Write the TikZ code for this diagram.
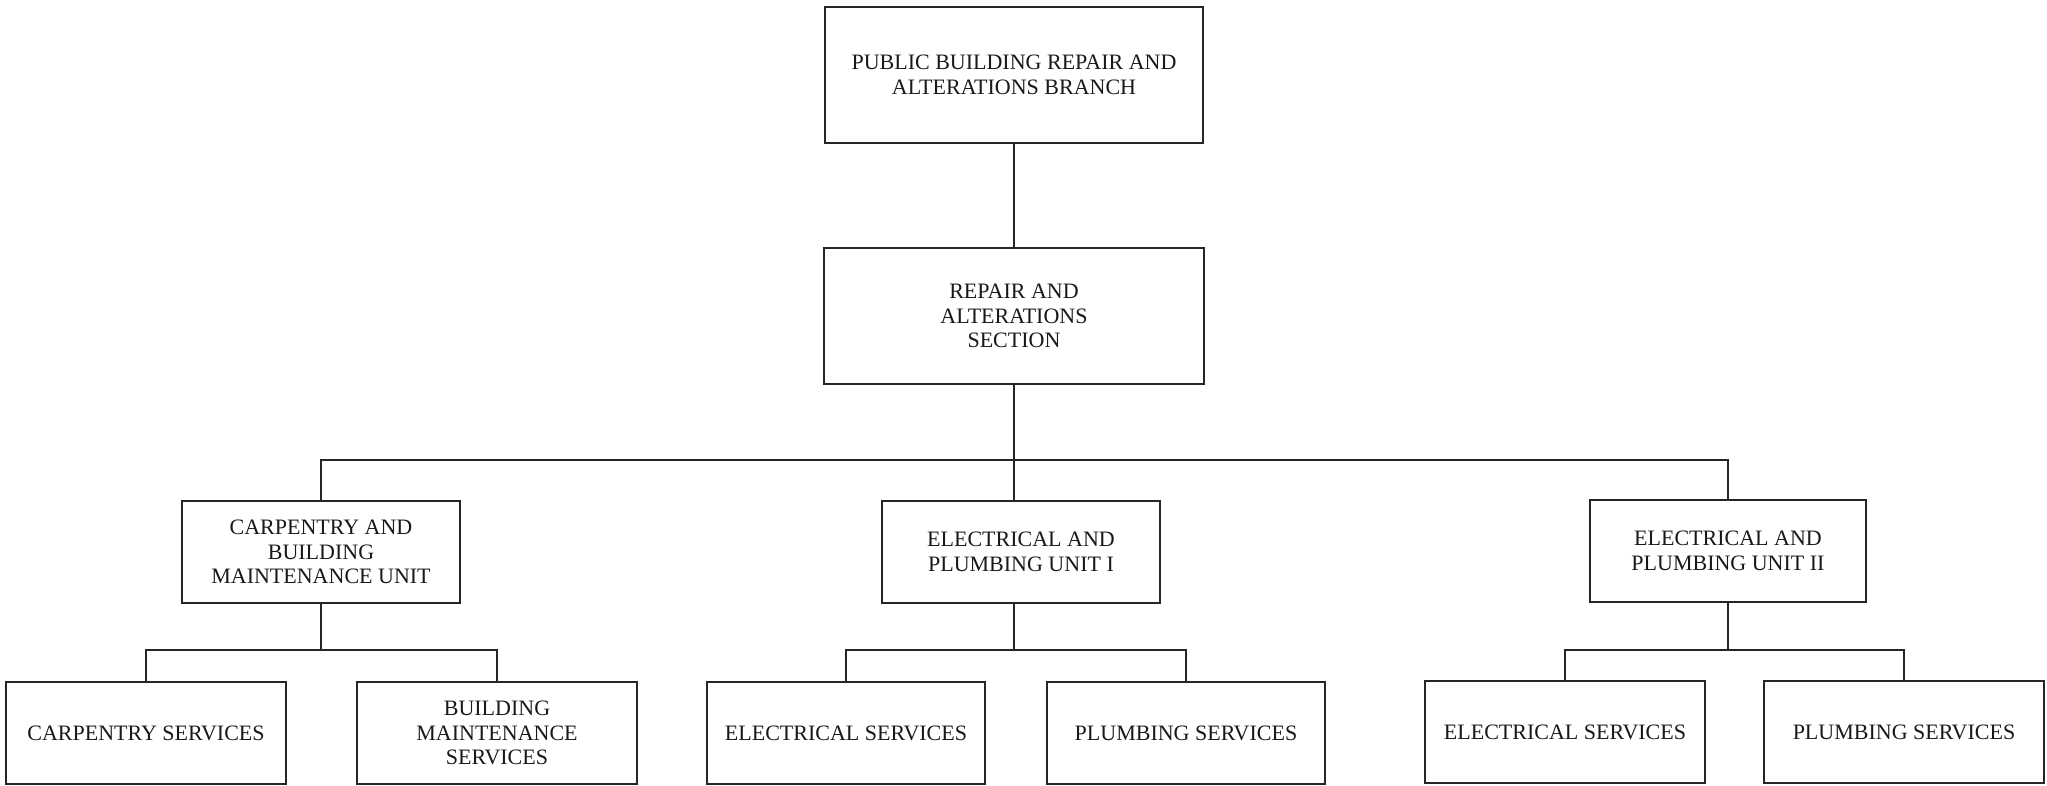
\documentclass[tikz,border=0pt]{standalone}
\usepackage{fontspec}
\setmainfont{Liberation Serif}
\begin{document}
\begin{tikzpicture}[x=1pt,y=-1pt,
  box/.style={draw=black!85, line width=2pt, rectangle, inner sep=0pt, align=center,
    font=\fontsize{22}{24.5}\selectfont, text=black!90},
  con/.style={draw=black!85, line width=2pt}]
\useasboundingbox[fill=white] (0,0) rectangle (2047,785);
% boxes
\node[box, minimum width=378pt, minimum height=136pt] (top) at (1014,75) {PUBLIC BUILDING REPAIR AND\\ALTERATIONS BRANCH};
\node[box, minimum width=380pt, minimum height=136pt] (sec) at (1014,316) {REPAIR AND\\ALTERATIONS\\SECTION};
\node[box, minimum width=278pt, minimum height=102pt] (uC) at (321,552) {CARPENTRY AND\\BUILDING\\MAINTENANCE UNIT};
\node[box, minimum width=278pt, minimum height=102pt] (uI) at (1021,552) {ELECTRICAL AND\\PLUMBING UNIT I};
\node[box, minimum width=276pt, minimum height=102pt] (uII) at (1728,551) {ELECTRICAL AND\\PLUMBING UNIT II};
\node[box, minimum width=280pt, minimum height=102pt] (cs) at (146,733) {CARPENTRY SERVICES};
\node[box, minimum width=280pt, minimum height=102pt] (bm) at (497,733) {BUILDING\\MAINTENANCE\\SERVICES};
\node[box, minimum width=278pt, minimum height=102pt] (es1) at (846,733) {ELECTRICAL SERVICES};
\node[box, minimum width=278pt, minimum height=102pt] (ps1) at (1186,733) {PLUMBING SERVICES};
\node[box, minimum width=280pt, minimum height=102pt] (es2) at (1565,732) {ELECTRICAL SERVICES};
\node[box, minimum width=280pt, minimum height=102pt] (ps2) at (1904,732) {PLUMBING SERVICES};
% bus levels
\coordinate (bus) at (0,460);
\coordinate (sb) at (0,650);
% connectors
\draw[con] (top.south) -- (sec.north);
\draw[con] (sec.south) -- (sec.south |- uI.north);
\draw[con] (uC.north) -- (uC.north |- bus) -- (uII.north |- bus) -- (uII.north);
% unit C
\draw[con] (uC.south) -- (uC.south |- sb);
\draw[con] (cs.north) -- (cs.north |- sb) -- (bm.north |- sb) -- (bm.north);
% unit I
\draw[con] (sec.south |- uI.south) -- (sec.south |- sb);
\draw[con] (es1.north) -- (es1.north |- sb) -- (ps1.north |- sb) -- (ps1.north);
% unit II
\draw[con] (uII.south) -- (uII.south |- sb);
\draw[con] (es2.north) -- (es2.north |- sb) -- (ps2.north |- sb) -- (ps2.north);
\end{tikzpicture}
\end{document}
